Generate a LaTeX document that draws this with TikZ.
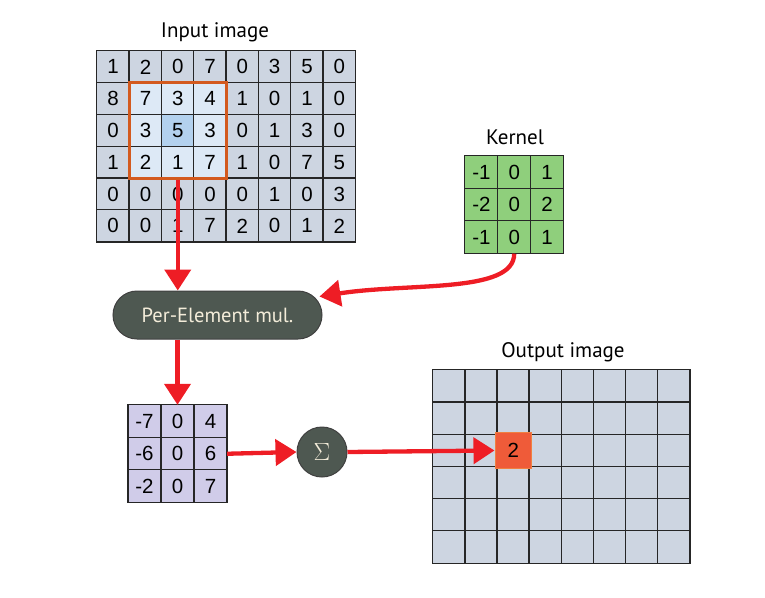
\documentclass[tikz,border=0pt]{standalone}
\usepackage{fontspec}
\setmainfont{Liberation Sans}
\newfontfamily\titlefont{PT Sans}
\usetikzlibrary{arrows.meta,fit}
\definecolor{inbg}{HTML}{CDD5E1}
\definecolor{inwin}{HTML}{DDE9F6}
\definecolor{incent}{HTML}{B3D1EE}
\definecolor{kergreen}{HTML}{8FCF7C}
\definecolor{resviolet}{HTML}{D0CCE9}
\definecolor{frameor}{HTML}{D35A1F}
\definecolor{hitfill}{HTML}{EF5B39}
\definecolor{hitdraw}{HTML}{F08040}
\definecolor{boxgray}{HTML}{4E5851}
\definecolor{arrowred}{HTML}{EE1D25}
\definecolor{textcream}{HTML}{F3ECD9}

\begin{document}
\begin{tikzpicture}[x=1pt,y=-1pt,
		cell/.style={minimum width=32.3pt, minimum height=31.8pt, inner sep=0pt,
			font=\fontsize{20.5}{21}\selectfont},
		smallcell/.style={cell, minimum width=32.8pt, minimum height=32.5pt},
		gridline/.style={draw=black!85, line width=1.3pt},
		title/.style={font=\titlefont\fontsize{21}{22}\selectfont},
		darkbox/.style={draw=black!75, line width=1pt, fill=boxgray, text=textcream},
		flow/.style={draw=arrowred, line width=4.3pt, -{Triangle[length=21pt,width=26pt]}}]
		{
			\useasboundingbox (0,0) rectangle (765,597);
			\def\inx{97}
			\def\iny{51}
				\foreach \row [count=\r from 0] in {{1,2,0,7,0,3,5,0},{8,7,3,4,1,0,1,0},{0,3,5,3,0,1,3,0},
					{1,2,1,7,1,0,7,5},{0,0,0,0,0,1,0,3},{0,0,1,7,2,0,1,2}}
				{
					\foreach \v [count=\c from 0] in \row
					{
						\def\cellfill{inbg}
						\ifnum\r>0 \ifnum\r<4 \ifnum\c>0 \ifnum\c<4 \def\cellfill{inwin}\fi\fi\fi\fi
						\ifnum\r=2 \ifnum\c=2 \def\cellfill{incent}\fi\fi
						\node[cell, fill=\cellfill] (in-\r-\c) at ({\inx+32.3*(\c+0.5)},{\iny+31.8*(\r+0.5)}) {\v};
					}
				}
				\foreach \c in {0,...,7}
					\draw[gridline] (in-0-\c.north west) -- (in-5-\c.south west);
				\foreach \r in {0,...,5}
					\draw[gridline] (in-\r-0.north west) -- (in-\r-7.north east);
				\draw[gridline] (in-0-0.north west) rectangle (in-5-7.south east);
				\node[title] (intitle) at (215,32) {Input image};
				\node[draw=frameor, line width=3pt, fit=(in-1-1)(in-3-3), inner sep=0pt] (frame) {};

				\foreach \row [count=\r from 0] in {{-1,0,1},{-2,0,2},{-1,0,1}}
				{
					\foreach \v [count=\c from 0] in \row
					{
						\node[smallcell, fill=kergreen] (ker-\r-\c) at ({465+32.8*(\c+0.5)},{156+32.5*(\r+0.5)}) {\v};
					}
				}
				\foreach \i in {1,2}
				{
					\draw[gridline] (ker-0-\i.north west) -- (ker-2-\i.south west);
					\draw[gridline] (ker-\i-0.north west) -- (ker-\i-2.north east);
				}
				\draw[gridline] (ker-0-0.north west) rectangle (ker-2-2.south east);
				\node[title] (kertitle) at (515,137) {Kernel};

				\foreach \row [count=\r from 0] in {{-7,0,4},{-6,0,6},{-2,0,7}}
				{
					\foreach \v [count=\c from 0] in \row
					{
						\node[smallcell, fill=resviolet] (res-\r-\c) at ({128+33*(\c+0.5)},{405+32.5*(\r+0.5)}) {\v};
					}
				}
				\foreach \i in {1,2}
				{
					\draw[gridline] (res-0-\i.north west) -- (res-2-\i.south west);
					\draw[gridline] (res-\i-0.north west) -- (res-\i-2.north east);
				}
				\draw[gridline] (res-0-0.north west) rectangle (res-2-2.south east);

				\foreach \r in {0,...,5}
				{
					\foreach \c in {0,...,7}
					{
						\node[cell, fill=inbg, minimum width=32.1pt, minimum height=32.2pt] (out-\r-\c)
							at ({433+32.1*(\c+0.5)},{370+32.2*(\r+0.5)}) {};
					}
				}
				\foreach \c in {1,...,7}
					\draw[gridline] (out-0-\c.north west) -- (out-5-\c.south west);
				\foreach \r in {1,...,5}
					\draw[gridline] (out-\r-0.north west) -- (out-\r-7.north east);
				\draw[gridline] (out-0-0.north west) rectangle (out-5-7.south east);
				\node[title] (outtitle) at (563,352) {Output image};
				\node[draw=hitdraw, line width=1.5pt, fill=hitfill, minimum size=36pt, inner sep=0pt,
					font=\fontsize{20.5}{21}\selectfont] (hit) at (out-2-2) {2};

				\node[darkbox, rounded corners=24pt, minimum width=209pt, minimum height=48pt,
					font=\titlefont\fontsize{20.5}{21}\selectfont] (mul) at (217.5,315) {Per-Element mul.};
				\node[darkbox, circle, minimum size=50pt, inner sep=0pt,
					font=\fontsize{28}{28}\selectfont] (sigma) at (322,452) {$\Sigma$};

				\coordinate (mulin) at ([xshift=-3pt,yshift=-6pt]mul.north east);
				\draw[flow] (frame.south) -- (frame.south |- mul.north);
				\draw[flow] (res-0-1.north |- mul.south) -- (res-0-1.north);
				\draw[flow] (ker-2-1.south) .. controls +(0,40) and +(90,-14) .. (mulin);
				\draw[flow] (res-1-2.east) -- (sigma.west);
				\draw[flow] (sigma.east) -- (hit.west);
			}
		\end{tikzpicture}
\end{document}
